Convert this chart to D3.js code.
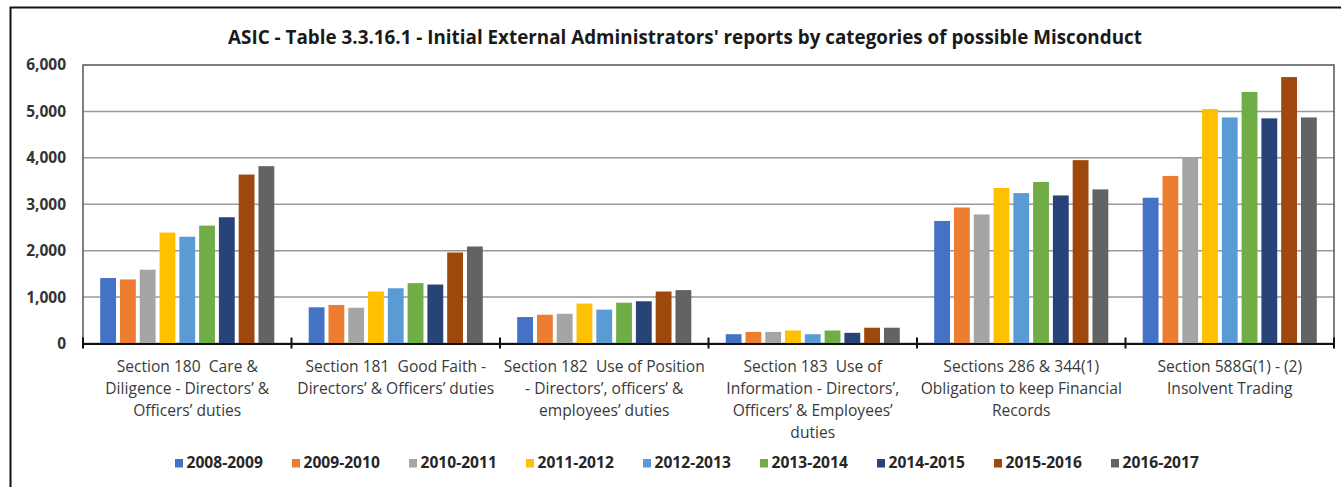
<!DOCTYPE html>
<html>
<head>
<meta charset="utf-8">
<script src="https://cdn.jsdelivr.net/npm/d3@7"></script>
<style>
  html, body { margin: 0; padding: 0; background: #fff; }
  svg { display: block; font-family: "Open Sans", "Noto Sans", sans-serif; }
</style>
</head>
<body>
<svg id="chart" width="1341" height="487"></svg>
<script>
// ---- Data ----
const title = "ASIC - Table 3.3.16.1 - Initial External Administrators' reports by categories of possible Misconduct";

const categories = [
  ["Section 180  Care &", "Diligence - Directors’ &", "Officers’ duties"],
  ["Section 181  Good Faith -", "Directors’ & Officers’ duties"],
  ["Section 182  Use of Position", "- Directors’, officers’ &", "employees’ duties"],
  ["Section 183  Use of", "Information - Directors’,", "Officers’ & Employees’", "duties"],
  ["Sections 286 & 344(1)", "Obligation to keep Financial", "Records"],
  ["Section 588G(1) - (2)", "Insolvent Trading"]
];

const seriesNames = ["2008-2009", "2009-2010", "2010-2011", "2011-2012", "2012-2013",
                     "2013-2014", "2014-2015", "2015-2016", "2016-2017"];

const seriesColors = ["#4472C4", "#ED7D31", "#A5A5A5", "#FFC000", "#5B9BD5",
                      "#70AD47", "#264478", "#9E480E", "#636363"];

// values per series (one value per category)
const s2008 = [1410,  780, 570, 200, 2640, 3140];
const s2009 = [1380,  830, 620, 250, 2930, 3610];
const s2010 = [1590,  770, 640, 250, 2780, 4000];
const s2011 = [2390, 1120, 860, 280, 3350, 5050];
const s2012 = [2300, 1190, 730, 200, 3240, 4870];
const s2013 = [2540, 1300, 880, 280, 3480, 5420];
const s2014 = [2720, 1270, 910, 230, 3190, 4850];
const s2015 = [3640, 1960, 1120, 340, 3950, 5740];
const s2016 = [3820, 2090, 1150, 340, 3320, 4870];
const seriesValues = [s2008, s2009, s2010, s2011, s2012, s2013, s2014, s2015, s2016];

const yTicks = [0, 1000, 2000, 3000, 4000, 5000, 6000];

// ---- Layout ----
const svg = d3.select("#chart");
const plot = { left: 83, right: 1334, top: 65, bottom: 343.5 };

// outer frame
svg.append("rect")
  .attr("x", 10.5).attr("y", 7.5)
  .attr("width", 1400).attr("height", 600)
  .attr("fill", "none").attr("stroke", "#111").attr("stroke-width", 2);

// title
const titleText = svg.append("text")
  .attr("x", 685).attr("y", 44)
  .attr("text-anchor", "middle")
  .attr("font-weight", "bold")
  .attr("font-size", 16)
  .attr("fill", "#1a1a1a")
  .text(title);
(function fit() {
  const w = titleText.node().getComputedTextLength();
  const target = 914;
  titleText.attr("font-size", 16 * target / w);
})();

const catIdx = d3.range(categories.length);
const x0 = d3.scaleBand().domain(catIdx).range([plot.left, plot.right]).padding(0);
const groupW = x0.bandwidth() * 0.835;
const x1 = d3.scaleBand().domain(d3.range(seriesNames.length))
  .range([0, groupW]).paddingInner(0.2).paddingOuter(0);
const y = d3.scaleLinear().domain([0, 6000]).range([plot.bottom, plot.top]);

// gridlines
svg.append("g").selectAll("line")
  .data(yTicks.filter(t => t > 0 && t < 6000))
  .join("line")
  .attr("x1", plot.left).attr("x2", plot.right)
  .attr("y1", d => y(d)).attr("y2", d => y(d))
  .attr("stroke", "#9a9a9a").attr("stroke-width", 1.5);

// plot border
svg.append("rect")
  .attr("x", plot.left).attr("y", plot.top)
  .attr("width", plot.right - plot.left).attr("height", plot.bottom - plot.top)
  .attr("fill", "none").attr("stroke", "#555").attr("stroke-width", 1.5);

// bars
const groups = svg.append("g").selectAll("g")
  .data(catIdx).join("g")
  .attr("transform", c => `translate(${x0(c) + (x0.bandwidth() - groupW) / 2},0)`);
groups.selectAll("rect")
  .data(c => seriesValues.map((vals, s) => ({ s, v: vals[c] })))
  .join("rect")
  .attr("x", d => x1(d.s))
  .attr("width", x1.bandwidth())
  .attr("y", d => y(d.v))
  .attr("height", d => y(0) - y(d.v))
  .attr("fill", d => seriesColors[d.s]);

// y axis labels
const yAxis = d3.axisLeft(y).tickValues(yTicks).tickFormat(d3.format(",")).tickSize(0).tickPadding(0);
const yg = svg.append("g").attr("transform", `translate(66,0)`).call(yAxis);
yg.select(".domain").remove();
yg.selectAll("text")
  .attr("font-family", "'Open Sans', sans-serif")
  .attr("font-size", 15.5).attr("font-weight", "bold").attr("fill", "#333");

// x axis baseline + ticks
const xAxis = d3.axisBottom(x0).tickSize(0).tickFormat("");
const xg = svg.append("g").attr("transform", `translate(0,${plot.bottom})`).call(xAxis);
xg.select(".domain").attr("stroke", "#111").attr("stroke-width", 2);
xg.selectAll(".tick").remove();
svg.append("g").selectAll("line")
  .data(d3.range(categories.length + 1))
  .join("line")
  .attr("x1", i => i < categories.length ? x0(i) : plot.right)
  .attr("x2", i => i < categories.length ? x0(i) : plot.right)
  .attr("y1", plot.bottom - 6).attr("y2", plot.bottom + 5)
  .attr("stroke", "#111").attr("stroke-width", 2);

// category labels
const catLabels = svg.append("g").selectAll("text")
  .data(catIdx).join("text")
  .attr("text-anchor", "middle")
  .attr("font-size", 15.6)
  .attr("fill", "#3a3a3a")
  .style("white-space", "pre");
catLabels.each(function(c) {
  const t = d3.select(this);
  categories[c].forEach((line, i) => {
    t.append("tspan")
      .attr("x", x0(c) + x0.bandwidth() / 2)
      .attr("y", 371.5 + i * 22)
      .text(line);
  });
});

// legend
const legend = svg.append("g").selectAll("g")
  .data(seriesNames).join("g")
  .attr("transform", (d, i) => `translate(${175 + i * 117},0)`);
legend.append("rect")
  .attr("x", 0).attr("y", 459).attr("width", 8).attr("height", 8.5)
  .attr("fill", (d, i) => seriesColors[i]);
legend.append("text")
  .attr("x", 11.5).attr("y", 468)
  .attr("font-size", 15.6).attr("font-weight", "bold")
  .attr("fill", "#262626")
  .text(d => d);
</script>
</body>
</html>
